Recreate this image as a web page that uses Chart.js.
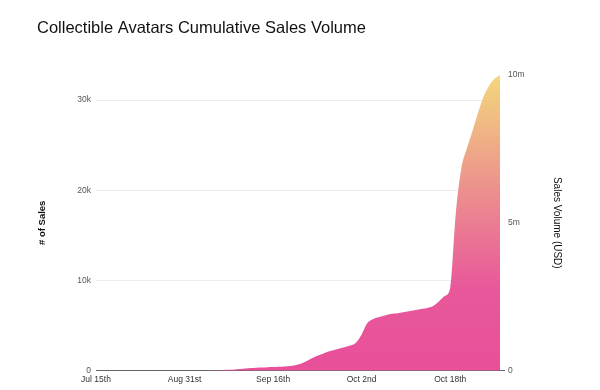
<!DOCTYPE html>
<html>
<head>
<meta charset="utf-8">
<script src="https://cdn.jsdelivr.net/npm/chart.js@4/dist/chart.umd.min.js"></script>
<style>
  html, body { margin: 0; padding: 0; background: #fff; }
  #wrap { width: 600px; height: 390px; position: relative; }
</style>
</head>
<body>
<div id="wrap"><canvas id="c"></canvas></div>
<script>
const categories = [
  "Jul 15th",
  "Aug 16th","Aug 17th","Aug 18th","Aug 19th","Aug 20th","Aug 21st","Aug 22nd","Aug 23rd","Aug 24th","Aug 25th",
  "Aug 26th","Aug 27th","Aug 28th","Aug 29th","Aug 30th","Aug 31st",
  "Sep 1st","Sep 2nd","Sep 3rd","Sep 4th","Sep 5th","Sep 6th","Sep 7th","Sep 8th","Sep 9th","Sep 10th",
  "Sep 11th","Sep 12th","Sep 13th","Sep 14th","Sep 15th","Sep 16th","Sep 17th","Sep 18th","Sep 19th","Sep 20th",
  "Sep 21st","Sep 22nd","Sep 23rd","Sep 24th","Sep 25th","Sep 26th","Sep 27th","Sep 28th","Sep 29th","Sep 30th",
  "Oct 1st","Oct 2nd","Oct 3rd","Oct 4th","Oct 5th","Oct 6th","Oct 7th","Oct 8th","Oct 9th","Oct 10th",
  "Oct 11th","Oct 12th","Oct 13th","Oct 14th","Oct 15th","Oct 16th","Oct 17th","Oct 18th","Oct 19th","Oct 20th",
  "Oct 21st","Oct 22nd","Oct 23rd","Oct 24th","Oct 25th","Oct 26th","Oct 27th"
];
const shownDateLabels = ["Jul 15th","Aug 31st","Sep 16th","Oct 2nd","Oct 18th"];
const cumulativeSales = [
  0,
  0,0,0,0,0,0,0,0,0,0,
  0,0,0,0,0,0,
  0,0,0,0,20,55,90,110,145,190,
  245,300,335,360,390,415,450,480,525,615,
  785,1060,1400,1680,1900,2125,2295,2460,2630,2800,
  3130,4030,5260,5710,5930,6100,6270,6340,6430,6550,
  6660,6770,6870,7000,7220,7720,8280,9180,17350,22380,
  24620,26520,28530,30330,31560,32350,32750
];
const salesTicks = [0, 10000, 20000, 30000];
const salesTickLabels = ["0", "10k", "20k", "30k"];
const volumeTicks = [0, 5000000, 10000000];
const volumeTickLabels = ["0", "5m", "10m"];

const ctx = document.getElementById('c').getContext('2d');
function grad(context) {
  const ca = context.chart.chartArea;
  if (!ca) return '#E8529A';
  const g = context.chart.ctx.createLinearGradient(0, ca.bottom, 0, ca.top);
  g.addColorStop(0, '#E8509A');
  g.addColorStop(0.28, '#E8589A');
  g.addColorStop(0.6, '#EC8E8E');
  g.addColorStop(1, '#F3D77C');
  return g;
}
const tickFont = { family: "'Liberation Sans', Arial, sans-serif", size: 8.5 };
new Chart(ctx, {
  type: 'line',
  data: {
    labels: categories,
    datasets: [{
      data: cumulativeSales,
      yAxisID: 'y',
      fill: 'origin',
      backgroundColor: grad,
      borderWidth: 0,
      borderColor: 'rgba(0,0,0,0)',
      pointRadius: 0,
      cubicInterpolationMode: 'monotone'
    }]
  },
  options: {
    responsive: true,
    maintainAspectRatio: false,
    animation: false,
    layout: { padding: { left: 37, right: 0, top: 0, bottom: 1 } },
    plugins: {
      legend: { display: false },
      tooltip: { enabled: false },
      title: {
        display: true,
        text: 'Collectible Avatars Cumulative Sales Volume',
        align: 'start',
        color: '#111',
        font: { family: "'Liberation Sans', Arial, sans-serif", size: 16.5, weight: 'normal' },
        padding: { top: 19, bottom: 36 }
      }
    },
    scales: {
      x: {
        type: 'category',
        offset: false,
        grid: { display: false, drawTicks: false },
        border: { display: true, color: '#666', width: 1 },
        ticks: {
          autoSkip: false,
          maxRotation: 0,
          minRotation: 0,
          padding: 4,
          color: '#333',
          font: tickFont,
          callback: function(value) {
            const l = this.getLabelForValue(value);
            return shownDateLabels.includes(l) ? l : '';
          }
        }
      },
      y: {
        position: 'left',
        min: 0,
        max: 32800,
        afterBuildTicks: (s) => { s.ticks = salesTicks.map(v => ({ value: v })); },
        afterFit: (s) => { s.width = 59; },
        grid: {
          drawTicks: false,
          color: (c) => c.tick && c.tick.value === 0 ? '#666' : '#ececec',
          lineWidth: 1
        },
        border: { display: false },
        ticks: {
          padding: 5,
          color: '#555',
          font: tickFont,
          callback: (v) => salesTickLabels[salesTicks.indexOf(v)]
        },
        title: {
          display: true,
          text: '# of Sales',
          color: '#111',
          font: { family: "'Liberation Sans', Arial, sans-serif", size: 9.5, weight: 'bold' },
          padding: { top: 0, bottom: 0 }
        }
      },
      y2: {
        position: 'right',
        min: 0,
        max: 10000000,
        afterBuildTicks: (s) => { s.ticks = volumeTicks.map(v => ({ value: v })); },
        afterFit: (s) => { s.width = 100; },
        grid: {
          drawOnChartArea: false,
          drawTicks: true,
          tickLength: 5,
          color: (c) => c.tick && c.tick.value === 0 ? '#666' : 'rgba(0,0,0,0)'
        },
        border: { display: false },
        ticks: {
          padding: 3,
          color: '#555',
          font: tickFont,
          callback: (v) => volumeTickLabels[volumeTicks.indexOf(v)]
        },
        title: {
          display: true,
          text: 'Sales Volume (USD)',
          color: '#111',
          font: { family: "'Liberation Sans', Arial, sans-serif", size: 10, weight: 'normal' },
          padding: { top: 37, bottom: 0 }
        }
      }
    }
  }
});
</script>
</body>
</html>
